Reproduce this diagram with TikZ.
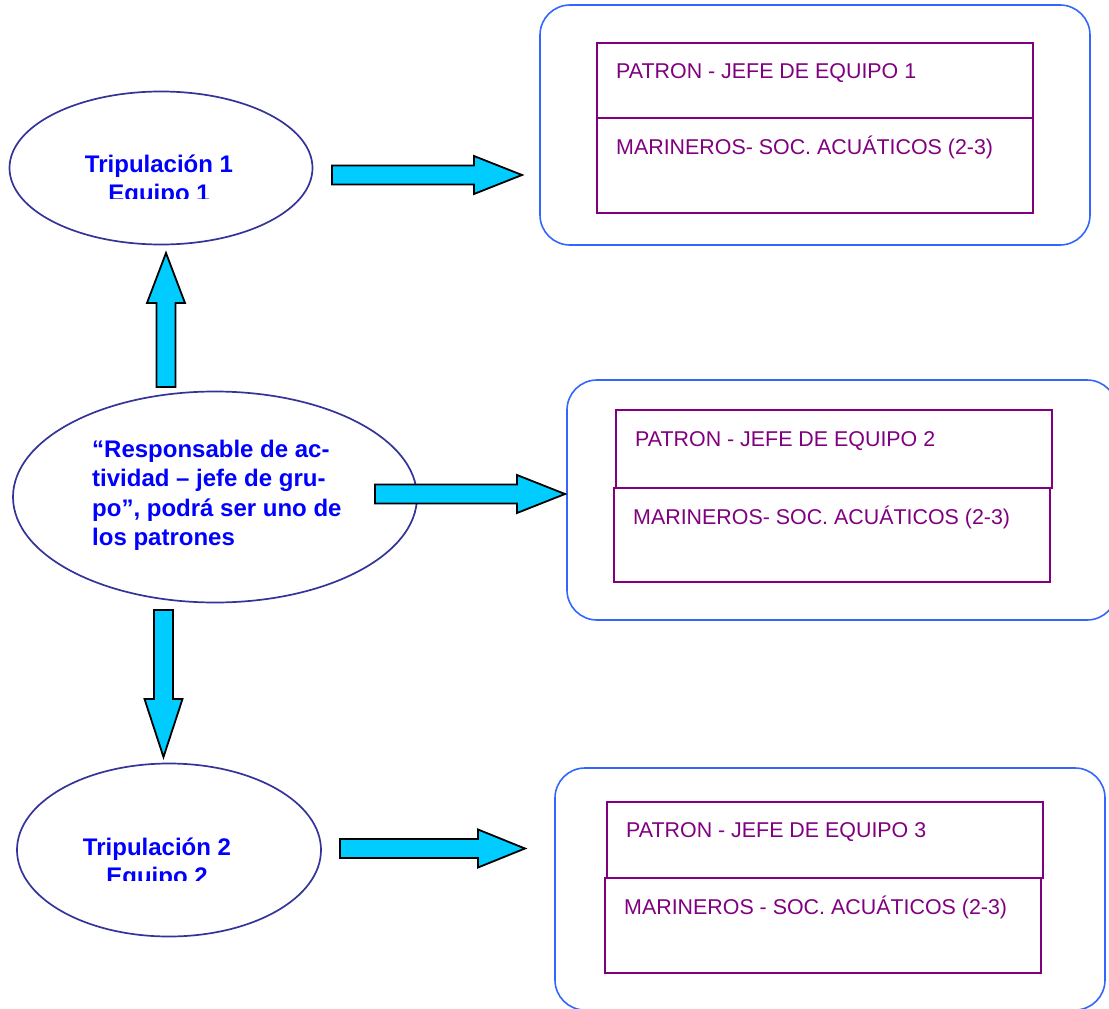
\documentclass[tikz,border=0pt]{standalone}
\usepackage{fontspec}
\setmainfont{Liberation Sans}
\usetikzlibrary{shapes.geometric, calc}
\definecolor{elipsecol}{RGB}{51,51,153}
\definecolor{rotulocol}{RGB}{0,0,255}
\definecolor{grupocol}{RGB}{51,102,255}
\definecolor{celdacol}{RGB}{128,0,128}
\definecolor{flechacol}{RGB}{0,204,255}
\begin{document}
\begin{tikzpicture}[
  x=1pt, y=-1pt,
  elipse/.style={ellipse, draw=elipsecol, line width=1.7pt, inner sep=0pt},
  grupo/.style={draw=grupocol, line width=1.6pt, rounded corners=30pt, inner sep=0pt,
                minimum width=550pt, minimum height=240pt},
  celda/.style={draw=celdacol, line width=2pt, inner sep=0pt, minimum width=436pt},
  rotulo/.style={text=rotulocol, font=\fontsize{24}{29.5}\selectfont\bfseries, inner sep=0pt},
  cargo/.style={text=celdacol, font=\fontsize{21.4}{25}\selectfont, inner sep=0pt, anchor=base west},
  bloque/.style={draw=black, line width=1.8pt, fill=flechacol},
  pics/flecha/.style n args={2}{code={
    \draw[bloque] (0,-9.5) -- (#1-#2,-9.5) -- (#1-#2,-19) -- (#1,0) -- (#1-#2,19)
      -- (#1-#2,9.5) -- (0,9.5) -- cycle;}},
]
\clip (0,0) rectangle (1109,1009);
% left column: crews and group leader
\node[elipse, minimum width=303pt, minimum height=153pt] (trip1) at (161,168) {};
\node[elipse, minimum width=404pt, minimum height=211pt] (resp) at (215,497) {};
\node[elipse, minimum width=304pt, minimum height=173pt] (trip2) at (169,850) {};
\begin{scope}
  \clip (0,100) rectangle (330,198);
  \node[rotulo, anchor=base] (trip1txt) at (159,172)
    {\parbox[t]{220pt}{\centering Tripulación 1\\Equipo 1}};
\end{scope}
\node[rotulo, anchor=base west] (resptxt) at (92,457)
  {\parbox[t]{320pt}{\raggedright “Responsable de ac-\\tividad – jefe de gru-\\po”, podrá ser uno de\\los patrones}};
\begin{scope}
  \clip (0,780) rectangle (330,880);
  \node[rotulo, anchor=base] (trip2txt) at (157,855)
    {\parbox[t]{220pt}{\centering Tripulación 2\\Equipo 2}};
\end{scope}
% right column: teams
\node[grupo] (g1) at (815,125) {};
\node[celda, minimum height=75pt] (pat1) at (815,80.5) {};
\node[celda, minimum height=95pt] (mar1) at (815,165.5) {};
\node[cargo] (pat1txt) at ($(pat1.north west)+(20,36)$) {PATRON - JEFE DE EQUIPO 1};
\node[cargo] (mar1txt) at ($(mar1.north west)+(20,37)$) {MARINEROS- SOC. ACUÁTICOS (2-3)};

\node[grupo] (g2) at (842,500) {};
\node[celda, minimum height=78pt] (pat2) at (834,449) {};
\node[celda, minimum height=94pt] (mar2) at (832,535) {};
\node[cargo] (pat2txt) at ($(pat2.north west)+(20,37)$) {PATRON - JEFE DE EQUIPO 2};
\node[cargo] (mar2txt) at ($(mar2.north west)+(20,37)$) {MARINEROS- SOC. ACUÁTICOS (2-3)};

\node[grupo, minimum height=242pt] (g3) at (830,889) {};
\node[celda, minimum height=76pt] (pat3) at (825,840) {};
\node[celda, minimum height=95pt] (mar3) at (823,925.5) {};
\node[cargo] (pat3txt) at ($(pat3.north west)+(20,36)$) {PATRON - JEFE DE EQUIPO 3};
\node[cargo] (mar3txt) at ($(mar3.north west)+(20,37)$) {MARINEROS - SOC. ACUÁTICOS (2-3)};
% block arrows
\pic at (332,175) {flecha={190}{48}};
\pic at (375,494) {flecha={190}{48}};
\pic at (340,848.5) {flecha={185}{47}};
\pic[rotate=90] at (166,387) {flecha={134}{50}};
\pic[rotate=-90] at (163.5,610) {flecha={147}{58}};
\end{tikzpicture}
\end{document}
